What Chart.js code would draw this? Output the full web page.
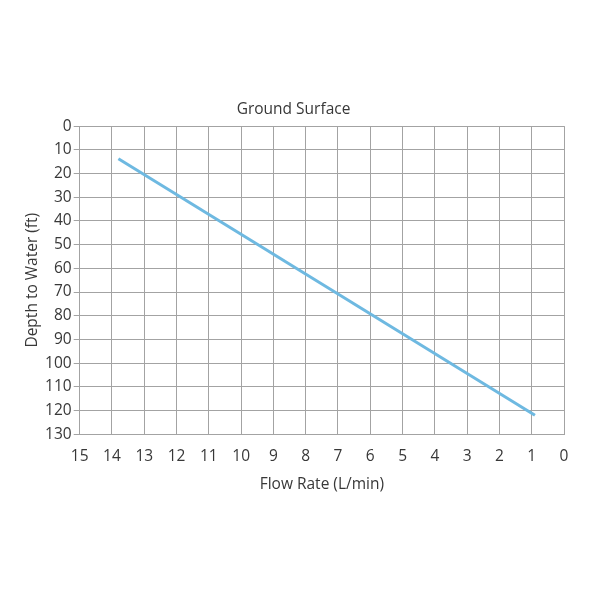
<!DOCTYPE html>
<html>
<head>
<meta charset="utf-8">
<script src="https://cdn.jsdelivr.net/npm/chart.js@4"></script>
<style>
  html, body { margin: 0; padding: 0; background: #fff; }
  #wrap { width: 600px; height: 600px; }
</style>
</head>
<body>
<div id="wrap"><canvas id="mychart"></canvas></div>
<script>
// data
const flowRate = [13.8, 0.9]
const depth = [13.8, 122]
const xTicks = [15, 14, 13, 12, 11, 10, 9, 8, 7, 6, 5, 4, 3, 2, 1, 0]
const yTicks = [0, 10, 20, 30, 40, 50, 60, 70, 80, 90, 100, 110, 120, 130]

const points = flowRate.map((f, i) => ({ x: f, y: depth[i] }))
const txt = '#383838'
const gridCol = '#a3a3a3'

const data = {
  datasets: [{
    label: 'Depth',
    data: points,
    borderColor: 'rgb(110, 185, 225)',
    borderWidth: 3,
    pointRadius: 0,
    fill: false
  }]
}

const config = {
  type: 'line',
  data,
  options: {
    responsive: true,
    maintainAspectRatio: false,
    animation: false,
    layout: { padding: { top: 100, bottom: 102.5, left: 23, right: 36 } },
    plugins: {
      legend: { display: false },
      tooltip: { enabled: false },
      title: {
        display: true,
        text: 'Ground Surface',
        color: txt,
        font: { family: 'Open Sans', size: 15.5, weight: 'normal' },
        padding: { top: 0, bottom: 7.5 }
      }
    },
    scales: {
      x: {
        type: 'linear',
        reverse: true,
        min: 0,
        max: 15,
        afterBuildTicks: axis => { axis.ticks = xTicks.map(v => ({ value: v })) },
        ticks: { color: txt, font: { family: 'Open Sans', size: 15.5 }, padding: 13, maxRotation: 0 },
        grid: { color: gridCol, drawTicks: false },
        border: { color: gridCol },
        title: {
          display: true,
          text: 'Flow Rate (L/min)',
          color: txt,
          font: { family: 'Open Sans', size: 15.5 },
          padding: { top: -4 }
        }
      },
      y: {
        type: 'linear',
        reverse: true,
        min: 0,
        max: 130,
        afterBuildTicks: axis => { axis.ticks = yTicks.map(v => ({ value: v })) },
        ticks: { color: txt, font: { family: 'Open Sans', size: 15.5 }, padding: 2 },
        grid: { color: gridCol, tickLength: 6 },
        border: { color: gridCol },
        title: {
          display: true,
          text: 'Depth to Water (ft)',
          color: txt,
          font: { family: 'Open Sans', size: 15.5 },
          padding: { top: 0, bottom: 1.5 }
        }
      }
    }
  }
}

new Chart(document.querySelector('#mychart'), config)
</script>
</body>
</html>
